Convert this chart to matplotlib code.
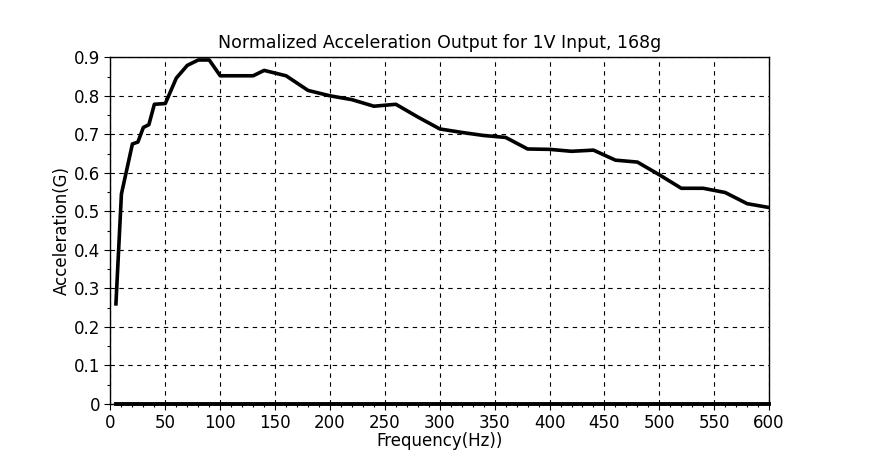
import numpy as np
import matplotlib
matplotlib.use("Agg")
import matplotlib.pyplot as plt
from matplotlib.ticker import MultipleLocator

# frequency sweep (Hz) and normalized acceleration (G)
freq = [5, 10, 20, 25, 30, 35, 40, 50, 60, 70, 80, 90, 100, 110, 120, 130,
        140, 160, 180, 200, 220, 240, 260, 280, 300, 320, 340, 360, 380, 400,
        420, 440, 460, 480, 500, 520, 540, 560, 580, 600]
accel = [0.26, 0.545, 0.675, 0.68, 0.718, 0.725, 0.778, 0.78, 0.846, 0.879,
         0.893, 0.893, 0.852, 0.852, 0.852, 0.852, 0.866, 0.852, 0.814, 0.8,
         0.79, 0.773, 0.778, 0.745, 0.714, 0.705, 0.697, 0.692, 0.662, 0.661,
         0.656, 0.659, 0.633, 0.628, 0.595, 0.56, 0.56, 0.549, 0.52, 0.51]
baseline = [0.0] * len(freq)

title = "Normalized Acceleration Output for 1V Input, 168g"
xlabel = "Frequency(Hz))"
ylabel = "Acceleration(G)"

fig = plt.figure(figsize=(8.8, 4.62), dpi=100)
ax = fig.add_axes([0.1255, 0.1255, 0.7485, 0.7505])

ax.plot(freq, accel, color="k", linewidth=2.6)
# zero trace sits on the axis, draw it unclipped so its full width shows
ax.plot(freq, baseline, color="k", linewidth=2.8, clip_on=False, zorder=3)

ax.set_xlim(0, 600)
ax.set_ylim(0, 0.9)
ax.xaxis.set_major_locator(MultipleLocator(50))
ax.xaxis.set_minor_locator(MultipleLocator(10))
ax.yaxis.set_major_locator(MultipleLocator(0.1))
ax.yaxis.set_minor_locator(MultipleLocator(0.05))
ax.yaxis.set_major_formatter(plt.FuncFormatter(lambda v, p: "0" if abs(v) < 1e-9 else "%g" % v))

ax.tick_params(which="both", direction="out", top=False, right=False, labelsize=12)
ax.tick_params(which="major", length=4, width=0.8)
ax.tick_params(which="minor", length=2, width=0.8)

ax.grid(True, which="major", color="k", linestyle=(0, (4, 4)), linewidth=0.8)
for s in ax.spines.values():
    s.set_linewidth(1.0)

ax.set_title(title, fontsize=12.5, pad=7)
ax.set_xlabel(xlabel, fontsize=12, labelpad=0)
ax.set_ylabel(ylabel, fontsize=12, labelpad=2)

fig.savefig("out.png", dpi=100)
